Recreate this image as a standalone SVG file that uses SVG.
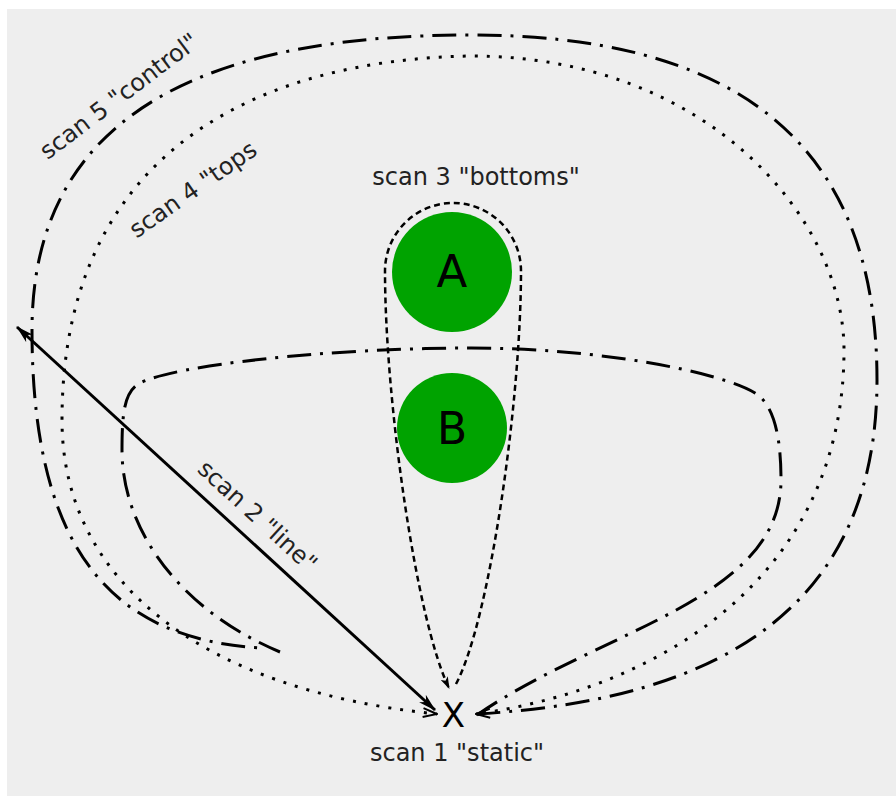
<svg xmlns="http://www.w3.org/2000/svg" width="896" height="796" viewBox="0 0 896 796">
<style>
.lbl{font-family:"DejaVu Sans","Verdana",sans-serif;font-size:24px;fill:#222;text-anchor:middle}
.nodeTxt{font-family:"DejaVu Sans","Verdana",sans-serif;fill:#000;text-anchor:middle}
.dashdot{fill:none;stroke:#000;stroke-width:3;stroke-dasharray:24 9 3 9}
.dotted{fill:none;stroke:#000;stroke-width:3;stroke-dasharray:3 9}
.dashed{fill:none;stroke:#000;stroke-width:2.5;stroke-dasharray:6 4}
.solid{fill:none;stroke:#000;stroke-width:3}
.node{fill:#00a300}
</style>
<defs>
<marker id="stealth" markerUnits="userSpaceOnUse" viewBox="0 0 18 10" refX="17" refY="5" markerWidth="18" markerHeight="10" orient="auto-start-reverse">
<path d="M0,0 L18,5 L0,10 L5,5 z" fill="#000"/>
</marker>
<marker id="small" markerUnits="userSpaceOnUse" viewBox="0 0 12 8" refX="11" refY="4" markerWidth="12" markerHeight="8" orient="auto-start-reverse">
<path d="M0,0 L12,4 L0,8 L3,4 z" fill="#000"/>
</marker>
<marker id="chev" markerUnits="userSpaceOnUse" viewBox="0 0 16 12" refX="15" refY="6" markerWidth="16" markerHeight="12" orient="auto-start-reverse">
<path d="M1,1.5 L15,6 L1,10.5" fill="none" stroke="#000" stroke-width="2"/>
</marker>
</defs>
<rect x="7" y="9" width="889" height="787" fill="#eeeeee"/>
<g id="connectors">
<path id="scan5" class="dashdot" marker-start="url(#chev)" d="M 476 714 C 730 700, 877 600, 877 380 C 877 130, 720 35, 471 35 C 230 35, 32 100, 32 330 C 32 560, 120 640, 262 648"/>
<path id="scan4" class="dotted" marker-end="url(#chev)" d="M 483 713 C 670 685, 844 570, 844 350 C 844 220, 710 56, 470 56 C 260 60, 62 150, 62 420 C 62 580, 200 690, 437 714"/>
<path id="scanInner" class="dashdot" d="M 477 715 C 600 630, 781 600, 781 480 C 781 440, 775 405, 755 393 C 720 372, 600 348, 471 348 C 330 348, 175 365, 140 383 C 125 391, 122 410, 122 450 C 122 530, 180 610, 280 652"/>
<path id="scan3" class="dashed" marker-end="url(#small)" d="M 456 684 C 490 620, 521 400, 521 271 A 68 68 0 0 0 385 271 C 385 400, 416 620, 449 688"/>
<line id="scan2" class="solid" x1="435" y1="710" x2="17" y2="327" marker-start="url(#stealth)" marker-end="url(#stealth)"/>
<text class="lbl" x="476" y="185">scan 3 "bottoms"</text>
<text class="lbl" x="457" y="761">scan 1 "static"</text>
<text class="lbl" transform="translate(252,522) rotate(42.5)">scan 2 "line"</text>
<text class="lbl" transform="translate(197.6,196) rotate(-35)">scan 4 "tops</text>
<text class="lbl" transform="translate(124,102.6) rotate(-37)">scan 5 "control"</text>
</g>
<g id="nodeA">
<circle class="node" cx="452" cy="272" r="60"/>
<text class="nodeTxt" x="452" y="287" font-size="45">A</text>
</g>
<g id="nodeB">
<circle class="node" cx="452" cy="428" r="55"/>
<text class="nodeTxt" x="452" y="444" font-size="44">B</text>
</g>
<g id="nodeX">
<text class="nodeTxt" x="453.5" y="726.5" font-size="34">X</text>
</g>
</svg>
